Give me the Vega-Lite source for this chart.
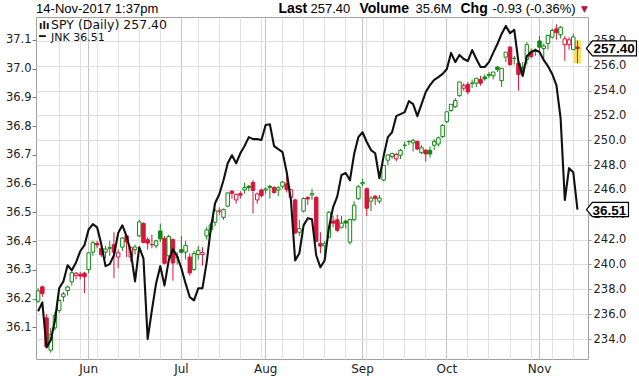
{
"$schema":"https://vega.github.io/schema/vega-lite/v6.json",
"width":552,"height":342,
"autosize":{"type":"none"},
"padding":{"left":36,"top":17,"right":51,"bottom":17},
"background":"white",
"config":{"view":{"stroke":"#a0a0a0","strokeWidth":1},"axis":{"labelFont":"DejaVu Sans","labelColor":"#222","title":null}},
"datasets":{"px":[
{"d":"2017-05-15","o":237.05,"h":238.1,"l":236.9,"c":237.88,"j":36.156},
{"d":"2017-05-16","o":238.2,"h":238.3,"l":237.4,"c":237.66,"j":36.187},
{"d":"2017-05-17","o":235.7,"h":236.0,"l":233.3,"c":233.4,"j":36.03},
{"d":"2017-05-18","o":233.1,"h":234.9,"l":232.9,"c":234.35,"j":36.055},
{"d":"2017-05-19","o":234.9,"h":236.2,"l":234.7,"c":235.89,"j":36.124},
{"d":"2017-05-22","o":236.3,"h":237.2,"l":236.1,"c":237.1,"j":36.236},
{"d":"2017-05-23","o":237.4,"h":237.8,"l":237.0,"c":237.63,"j":36.26},
{"d":"2017-05-24","o":237.9,"h":238.3,"l":237.5,"c":238.19,"j":36.316},
{"d":"2017-05-25","o":238.6,"h":239.5,"l":238.3,"c":239.34,"j":36.299},
{"d":"2017-05-26","o":239.1,"h":239.4,"l":238.8,"c":239.29,"j":36.326},
{"d":"2017-05-30","o":239.2,"h":239.4,"l":238.8,"c":239.08,"j":36.365},
{"d":"2017-05-31","o":239.3,"h":239.4,"l":237.7,"c":239.02,"j":36.386},
{"d":"2017-06-01","o":239.6,"h":241.0,"l":239.3,"c":240.94,"j":36.441},
{"d":"2017-06-02","o":241.0,"h":241.9,"l":240.7,"c":241.75,"j":36.459},
{"d":"2017-06-05","o":241.7,"h":241.9,"l":241.3,"c":241.57,"j":36.448},
{"d":"2017-06-06","o":241.3,"h":241.6,"l":240.6,"c":240.79,"j":36.389},
{"d":"2017-06-07","o":241.0,"h":241.5,"l":240.5,"c":241.24,"j":36.313},
{"d":"2017-06-08","o":241.3,"h":241.9,"l":240.7,"c":241.36,"j":36.32},
{"d":"2017-06-09","o":241.6,"h":242.6,"l":238.9,"c":240.99,"j":36.351},
{"d":"2017-06-12","o":240.6,"h":241.2,"l":239.7,"c":240.94,"j":36.428},
{"d":"2017-06-13","o":241.4,"h":242.2,"l":241.1,"c":242.13,"j":36.455},
{"d":"2017-06-14","o":242.3,"h":242.4,"l":240.6,"c":241.82,"j":36.417},
{"d":"2017-06-15","o":240.6,"h":241.5,"l":240.2,"c":241.35,"j":36.361},
{"d":"2017-06-16","o":241.2,"h":241.6,"l":240.8,"c":241.41,"j":36.26},
{"d":"2017-06-19","o":242.3,"h":243.6,"l":242.2,"c":243.43,"j":36.379},
{"d":"2017-06-20","o":243.3,"h":243.4,"l":241.7,"c":241.78,"j":36.34},
{"d":"2017-06-21","o":242.0,"h":242.2,"l":241.2,"c":241.72,"j":36.06},
{"d":"2017-06-22","o":241.6,"h":242.4,"l":241.3,"c":241.61,"j":36.159},
{"d":"2017-06-23","o":241.5,"h":242.0,"l":241.3,"c":241.9,"j":36.253},
{"d":"2017-06-26","o":242.7,"h":243.3,"l":241.8,"c":242.06,"j":36.313},
{"d":"2017-06-27","o":242.1,"h":242.3,"l":240.0,"c":240.1,"j":36.246},
{"d":"2017-06-28","o":240.7,"h":242.4,"l":240.5,"c":242.26,"j":36.333},
{"d":"2017-06-29","o":242.0,"h":242.1,"l":238.7,"c":240.12,"j":36.372},
{"d":"2017-06-30","o":240.6,"h":241.0,"l":240.0,"c":240.57,"j":36.347},
{"d":"2017-07-03","o":241.2,"h":242.3,"l":240.9,"c":240.98,"j":36.306},
{"d":"2017-07-05","o":241.0,"h":241.9,"l":240.4,"c":241.54,"j":36.253},
{"d":"2017-07-06","o":240.6,"h":240.9,"l":239.1,"c":239.32,"j":36.205},
{"d":"2017-07-07","o":239.6,"h":241.1,"l":239.5,"c":240.88,"j":36.194},
{"d":"2017-07-10","o":240.8,"h":241.5,"l":240.4,"c":241.14,"j":36.236},
{"d":"2017-07-11","o":240.8,"h":241.4,"l":239.9,"c":240.96,"j":36.236},
{"d":"2017-07-12","o":242.3,"h":243.0,"l":242.0,"c":242.78,"j":36.326},
{"d":"2017-07-13","o":242.8,"h":243.4,"l":242.6,"c":243.19,"j":36.445},
{"d":"2017-07-14","o":243.4,"h":244.5,"l":243.1,"c":244.33,"j":36.532},
{"d":"2017-07-17","o":244.3,"h":244.6,"l":244.0,"c":244.3,"j":36.563},
{"d":"2017-07-18","o":243.8,"h":244.5,"l":243.6,"c":244.43,"j":36.612},
{"d":"2017-07-19","o":244.7,"h":245.8,"l":244.6,"c":245.76,"j":36.671},
{"d":"2017-07-20","o":245.9,"h":246.0,"l":245.3,"c":245.73,"j":36.699},
{"d":"2017-07-21","o":245.2,"h":245.7,"l":244.9,"c":245.65,"j":36.671},
{"d":"2017-07-24","o":245.7,"h":245.9,"l":245.3,"c":245.59,"j":36.706},
{"d":"2017-07-25","o":246.0,"h":246.6,"l":245.7,"c":246.19,"j":36.731},
{"d":"2017-07-26","o":246.3,"h":246.4,"l":245.9,"c":246.2,"j":36.762},
{"d":"2017-07-27","o":246.6,"h":246.8,"l":244.1,"c":245.97,"j":36.755},
{"d":"2017-07-28","o":245.2,"h":245.8,"l":244.9,"c":245.68,"j":36.755},
{"d":"2017-07-31","o":246.0,"h":246.1,"l":245.4,"c":245.54,"j":36.752},
{"d":"2017-08-01","o":246.0,"h":246.2,"l":245.7,"c":246.09,"j":36.804},
{"d":"2017-08-02","o":246.3,"h":246.4,"l":245.3,"c":246.21,"j":36.807},
{"d":"2017-08-03","o":246.2,"h":246.3,"l":245.7,"c":245.8,"j":36.731},
{"d":"2017-08-04","o":246.0,"h":246.3,"l":245.5,"c":246.18,"j":36.72},
{"d":"2017-08-07","o":246.3,"h":246.7,"l":246.1,"c":246.64,"j":36.71},
{"d":"2017-08-08","o":246.5,"h":247.2,"l":245.8,"c":246.03,"j":36.64},
{"d":"2017-08-09","o":245.4,"h":246.1,"l":245.1,"c":246.02,"j":36.543},
{"d":"2017-08-10","o":245.2,"h":245.3,"l":242.5,"c":242.53,"j":36.333},
{"d":"2017-08-11","o":242.6,"h":243.6,"l":242.3,"c":242.89,"j":36.358},
{"d":"2017-08-14","o":244.3,"h":245.4,"l":244.2,"c":245.31,"j":36.455},
{"d":"2017-08-15","o":245.4,"h":245.5,"l":244.8,"c":245.28,"j":36.48},
{"d":"2017-08-16","o":245.6,"h":246.1,"l":245.2,"c":245.71,"j":36.476},
{"d":"2017-08-17","o":245.4,"h":245.5,"l":241.8,"c":241.86,"j":36.351},
{"d":"2017-08-18","o":241.7,"h":242.6,"l":240.9,"c":241.48,"j":36.309},
{"d":"2017-08-21","o":241.5,"h":241.9,"l":240.7,"c":241.67,"j":36.333},
{"d":"2017-08-22","o":242.2,"h":244.3,"l":242.1,"c":244.21,"j":36.445},
{"d":"2017-08-23","o":243.5,"h":243.9,"l":243.0,"c":243.33,"j":36.518},
{"d":"2017-08-24","o":243.6,"h":244.0,"l":242.6,"c":242.76,"j":36.556},
{"d":"2017-08-25","o":243.0,"h":243.9,"l":242.9,"c":243.33,"j":36.63},
{"d":"2017-08-28","o":243.5,"h":243.6,"l":242.9,"c":243.34,"j":36.637},
{"d":"2017-08-29","o":241.8,"h":243.7,"l":241.6,"c":243.62,"j":36.612},
{"d":"2017-08-30","o":243.6,"h":245.1,"l":243.5,"c":244.78,"j":36.703},
{"d":"2017-08-31","o":245.3,"h":246.4,"l":245.2,"c":246.26,"j":36.762},
{"d":"2017-09-01","o":246.5,"h":246.9,"l":246.3,"c":246.61,"j":36.779},
{"d":"2017-09-05","o":246.1,"h":246.2,"l":243.9,"c":244.53,"j":36.745},
{"d":"2017-09-06","o":245.1,"h":245.5,"l":244.3,"c":245.35,"j":36.717},
{"d":"2017-09-07","o":245.5,"h":245.6,"l":244.8,"c":245.33,"j":36.706},
{"d":"2017-09-08","o":245.1,"h":245.6,"l":244.9,"c":245.35,"j":36.619},
{"d":"2017-09-11","o":246.8,"h":248.0,"l":246.7,"c":247.98,"j":36.696},
{"d":"2017-09-12","o":248.4,"h":248.9,"l":248.0,"c":248.82,"j":36.762},
{"d":"2017-09-13","o":248.7,"h":249.0,"l":248.5,"c":248.94,"j":36.779},
{"d":"2017-09-14","o":248.5,"h":249.0,"l":248.3,"c":248.86,"j":36.835},
{"d":"2017-09-15","o":248.8,"h":249.3,"l":248.5,"c":249.19,"j":36.842},
{"d":"2017-09-18","o":249.6,"h":249.9,"l":249.3,"c":249.6,"j":36.849},
{"d":"2017-09-19","o":249.9,"h":250.0,"l":249.6,"c":249.9,"j":36.887},
{"d":"2017-09-20","o":249.8,"h":250.1,"l":249.1,"c":250.0,"j":36.877},
{"d":"2017-09-21","o":249.9,"h":250.0,"l":249.2,"c":249.3,"j":36.835},
{"d":"2017-09-22","o":249.0,"h":249.6,"l":248.9,"c":249.4,"j":36.877},
{"d":"2017-09-25","o":249.2,"h":249.3,"l":248.3,"c":248.9,"j":36.919},
{"d":"2017-09-26","o":249.2,"h":249.5,"l":248.6,"c":248.9,"j":36.943},
{"d":"2017-09-27","o":249.6,"h":250.1,"l":249.2,"c":249.9,"j":36.961},
{"d":"2017-09-28","o":249.7,"h":250.3,"l":249.5,"c":250.2,"j":36.971},
{"d":"2017-09-29","o":250.3,"h":251.3,"l":250.2,"c":251.2,"j":36.982},
{"d":"2017-10-02","o":251.5,"h":252.3,"l":251.4,"c":252.3,"j":36.999},
{"d":"2017-10-03","o":252.4,"h":252.9,"l":252.3,"c":252.9,"j":37.055},
{"d":"2017-10-04","o":252.7,"h":253.4,"l":252.6,"c":253.2,"j":37.023},
{"d":"2017-10-05","o":253.6,"h":254.7,"l":253.5,"c":254.7,"j":37.048},
{"d":"2017-10-06","o":254.2,"h":254.6,"l":254.0,"c":254.4,"j":37.034},
{"d":"2017-10-09","o":254.5,"h":254.7,"l":253.7,"c":253.9,"j":37.027},
{"d":"2017-10-10","o":254.6,"h":254.9,"l":254.2,"c":254.6,"j":37.065},
{"d":"2017-10-11","o":254.6,"h":255.0,"l":254.3,"c":255.0,"j":37.034},
{"d":"2017-10-12","o":254.9,"h":255.2,"l":254.4,"c":254.6,"j":37.006},
{"d":"2017-10-13","o":255.1,"h":255.3,"l":254.8,"c":254.95,"j":37.006},
{"d":"2017-10-16","o":255.2,"h":255.5,"l":255.0,"c":255.3,"j":37.023},
{"d":"2017-10-17","o":255.2,"h":255.5,"l":254.9,"c":255.5,"j":37.055},
{"d":"2017-10-18","o":255.9,"h":255.95,"l":255.5,"c":255.7,"j":37.086},
{"d":"2017-10-19","o":254.8,"h":255.8,"l":254.3,"c":255.8,"j":37.121},
{"d":"2017-10-20","o":256.7,"h":257.1,"l":256.3,"c":257.1,"j":37.149},
{"d":"2017-10-23","o":257.5,"h":257.6,"l":256.0,"c":256.1,"j":37.124},
{"d":"2017-10-24","o":256.6,"h":256.8,"l":256.1,"c":256.6,"j":37.135},
{"d":"2017-10-25","o":256.2,"h":256.3,"l":254.0,"c":255.3,"j":37.023},
{"d":"2017-10-26","o":255.9,"h":256.3,"l":255.5,"c":255.6,"j":36.975},
{"d":"2017-10-27","o":256.5,"h":257.9,"l":256.1,"c":257.7,"j":37.044},
{"d":"2017-10-30","o":257.1,"h":257.4,"l":256.6,"c":256.75,"j":37.058},
{"d":"2017-10-31","o":257.2,"h":257.4,"l":256.8,"c":257.15,"j":37.065},
{"d":"2017-11-01","o":258.0,"h":258.4,"l":257.1,"c":257.5,"j":37.058},
{"d":"2017-11-02","o":257.4,"h":257.8,"l":256.5,"c":257.6,"j":37.03},
{"d":"2017-11-03","o":257.8,"h":258.5,"l":257.3,"c":258.45,"j":37.009},
{"d":"2017-11-06","o":258.3,"h":259.0,"l":258.2,"c":258.85,"j":36.982},
{"d":"2017-11-07","o":258.97,"h":259.35,"l":258.1,"c":258.67,"j":36.943},
{"d":"2017-11-08","o":258.5,"h":259.2,"l":258.2,"c":259.11,"j":36.828},
{"d":"2017-11-09","o":257.7,"h":258.4,"l":256.4,"c":258.17,"j":36.543},
{"d":"2017-11-10","o":257.7,"h":258.3,"l":257.3,"c":258.09,"j":36.654},
{"d":"2017-11-13","o":257.3,"h":258.6,"l":257.3,"c":258.33,"j":36.64},
{"d":"2017-11-14","o":257.5,"h":258.05,"l":256.2,"c":257.4,"j":36.51}
]},
"data":{"name":"px"},
"transform":[{"window":[{"op":"lag","field":"c","as":"pc"}],"sort":[{"field":"d","order":"ascending"}]}],
"layer":[
 {"layer":[
   {"transform":[{"filter":"datum.d == '2017-11-14'"}],
    "mark":{"type":"bar","size":7,"color":"#f7e35a"},
    "encoding":{"x":{"field":"d","type":"ordinal","axis":null},"y":{"field":"h","type":"quantitative"},"y2":{"field":"l"}}},
   {"mark":{"type":"rule","strokeWidth":1},
    "encoding":{
      "x":{"field":"d","type":"ordinal","scale":{"type":"band","paddingInner":0,"paddingOuter":1.09,"align":0,"round":false},
           "axis":{"orient":"bottom","values":["2017-05-22","2017-05-30","2017-06-05","2017-06-12","2017-06-19","2017-06-26","2017-07-03","2017-07-10","2017-07-17","2017-07-24","2017-07-31","2017-08-07","2017-08-14","2017-08-21","2017-08-28","2017-09-05","2017-09-11","2017-09-18","2017-09-25","2017-10-02","2017-10-09","2017-10-16","2017-10-23","2017-10-30","2017-11-06","2017-11-13"],"grid":true,"gridColor":"#e2e2e2","ticks":false,"labels":false,"domain":false,"bandPosition":0.5}},
      "y":{"field":"l","type":"quantitative","scale":{"domain":[232.39,259.93],"zero":false,"nice":false}},
      "y2":{"field":"h"},
      "stroke":{"condition":{"test":"datum.pc == null || datum.c >= datum.pc","value":"#118811"},"value":"#d8153c"}}},
   {"mark":{"type":"bar","size":3.5,"strokeWidth":1},
    "encoding":{
      "x":{"field":"d","type":"ordinal","scale":{"type":"band","paddingInner":0,"paddingOuter":1.09,"align":0,"round":false},
           "axis":{"orient":"bottom","values":["2017-06-01","2017-07-03","2017-08-01","2017-09-01","2017-10-02","2017-11-01"],"labelExpr":"utcFormat(toDate(datum.value), '%b')","grid":true,"gridColor":"#c4c4c4","ticks":false,"domain":false,"labelFontSize":12,"labelPadding":4,"labelAngle":0,"labelBaseline":"top","bandPosition":0.5}},
      "y":{"field":"o","type":"quantitative","scale":{"domain":[232.39,259.93],"zero":false,"nice":false},
           "axis":{"orient":"right","values":[234,236,238,240,242,244,246,248,250,252,254,256,258],"tickCount":40,"labelOverlap":false,"grid":true,"gridColor":"#dedede","tickSize":3,"tickColor":"#999","labelPadding":2,"domain":false,"labelFontSize":11.5,"title":null}},
      "y2":{"field":"c"},
      "stroke":{"condition":{"test":"datum.pc == null || datum.c >= datum.pc","value":"#118811"},"value":"#d8153c"},
      "fill":{"condition":[{"test":"datum.c > datum.o","value":"white"},{"test":"datum.pc == null || datum.c >= datum.pc","value":"#118811"}],"value":"#d8153c"}}},
   {"transform":[{"filter":"datum.d == '2017-11-14'"}],
    "encoding":{"x":{"field":"d","type":"ordinal","axis":null}},
    "layer":[
      {"mark":{"type":"point","shape":"M0,0 L0.12,-0.15 L1,-0.15 L1,0.15 L0.12,0.15 Z","size":10000,"filled":true,"fill":"white","stroke":"#000","strokeWidth":1.2,"opacity":1,"xOffset":9},
       "encoding":{"y":{"field":"c","type":"quantitative"}}},
      {"mark":{"type":"text","align":"left","baseline":"middle","dx":16,"dy":1,"font":"Liberation Sans","fontWeight":"bold","fontSize":13.5,"color":"#000"},
       "encoding":{"y":{"field":"c","type":"quantitative"},"text":{"field":"c","type":"quantitative","format":".2f"}}},
      {"mark":{"type":"text","text":"Last","align":"left","baseline":"alphabetic","dx":-299,"font":"Liberation Sans","fontWeight":"bold","fontSize":14,"color":"#000"},
       "encoding":{"y":{"datum":260.25,"type":"quantitative"}}},
      {"mark":{"type":"text","text":"257.40","align":"left","baseline":"alphabetic","dx":-267,"font":"Liberation Sans","fontSize":13,"color":"#000"},
       "encoding":{"y":{"datum":260.25,"type":"quantitative"}}},
      {"mark":{"type":"text","text":"Volume","align":"left","baseline":"alphabetic","dx":-218,"font":"Liberation Sans","fontWeight":"bold","fontSize":14,"color":"#000"},
       "encoding":{"y":{"datum":260.25,"type":"quantitative"}}},
      {"mark":{"type":"text","text":"35.6M","align":"left","baseline":"alphabetic","dx":-162,"font":"Liberation Sans","fontSize":13,"color":"#000"},
       "encoding":{"y":{"datum":260.25,"type":"quantitative"}}},
      {"mark":{"type":"text","text":"Chg","align":"left","baseline":"alphabetic","dx":-117,"font":"Liberation Sans","fontWeight":"bold","fontSize":14,"color":"#000"},
       "encoding":{"y":{"datum":260.25,"type":"quantitative"}}},
      {"mark":{"type":"text","text":"-0.93 (-0.36%)","align":"left","baseline":"alphabetic","dx":-85,"font":"Liberation Sans","fontSize":13,"color":"#000"},
       "encoding":{"y":{"datum":260.25,"type":"quantitative"}}},
      {"mark":{"type":"text","text":"▼","align":"center","baseline":"alphabetic","dx":7,"dy":-1,"font":"DejaVu Sans","fontSize":9,"color":"#b0143a"},
       "encoding":{"y":{"datum":260.25,"type":"quantitative"}}}
    ]},
   {"transform":[{"filter":"datum.d == '2017-05-15'"}],
    "encoding":{"x":{"field":"d","type":"ordinal","axis":null}},
    "layer":[
      {"mark":{"type":"text","text":"14-Nov-2017 1:37pm","align":"left","baseline":"alphabetic","dx":-2,"font":"Liberation Sans","fontSize":13,"color":"#000"},
       "encoding":{"y":{"datum":260.25,"type":"quantitative"}}},
      {"mark":{"type":"text","text":"SPY (Daily) 257.40","align":"left","baseline":"alphabetic","dx":13,"font":"DejaVu Sans","fontSize":12.5,"color":"#111"},
       "encoding":{"y":{"datum":258.96,"type":"quantitative"}}},
      {"mark":{"type":"text","text":"ılı","align":"left","baseline":"alphabetic","dx":1,"font":"DejaVu Sans","fontWeight":"bold","fontSize":10,"color":"#111"},
       "encoding":{"y":{"datum":258.96,"type":"quantitative"}}},
      {"mark":{"type":"text","text":"━","align":"left","baseline":"middle","dx":1,"font":"DejaVu Sans","fontSize":11,"color":"#111"},
       "encoding":{"y":{"datum":258.28,"type":"quantitative"}}},
      {"mark":{"type":"text","text":"JNK 36.51","align":"left","baseline":"alphabetic","dx":13,"font":"DejaVu Sans","fontSize":11,"color":"#111"},
       "encoding":{"y":{"datum":257.96,"type":"quantitative"}}}
    ]}
 ],
 "resolve":{"axis":{"x":"independent"}}},
 {"layer":[
   {"mark":{"type":"line","color":"#111","strokeWidth":2.1,"strokeJoin":"round"},
    "encoding":{
      "x":{"field":"d","type":"ordinal","scale":{"type":"band","paddingInner":0,"paddingOuter":1.09,"align":0,"round":false},
           "axis":{"orient":"bottom","labels":false,"ticks":true,"tickSize":2,"tickColor":"#b0b0b0","grid":false,"domain":false,"bandPosition":0.5}},
      "y":{"field":"j","type":"quantitative","scale":{"domain":[35.99,37.18],"zero":false,"nice":false},
           "axis":{"orient":"left","values":[36.1,36.2,36.3,36.4,36.5,36.6,36.7,36.8,36.9,37.0,37.1],"tickCount":40,"labelOverlap":false,"format":".1f","tickSize":4,"tickColor":"#777","labelPadding":1,"grid":false,"domain":false,"labelFontSize":11.5,"title":null}}}},
   {"transform":[{"filter":"datum.d == '2017-11-14'"}],
    "encoding":{"x":{"field":"d","type":"ordinal","axis":null},"y":{"field":"j","type":"quantitative"}},
    "layer":[
      {"mark":{"type":"point","shape":"M0,0 L0.14,-0.17 L1,-0.17 L1,0.17 L0.14,0.17 Z","size":7056,"filled":true,"fill":"white","stroke":"#000","strokeWidth":1.2,"opacity":1,"xOffset":9}},
      {"mark":{"type":"text","align":"left","baseline":"middle","dx":15,"dy":1,"font":"Liberation Sans","fontWeight":"bold","fontSize":13.5,"color":"#000"},
       "encoding":{"text":{"field":"j","type":"quantitative","format":".2f"}}}
    ]}
 ]}
],
"resolve":{"scale":{"y":"independent"},"axis":{"x":"independent"}}
}
